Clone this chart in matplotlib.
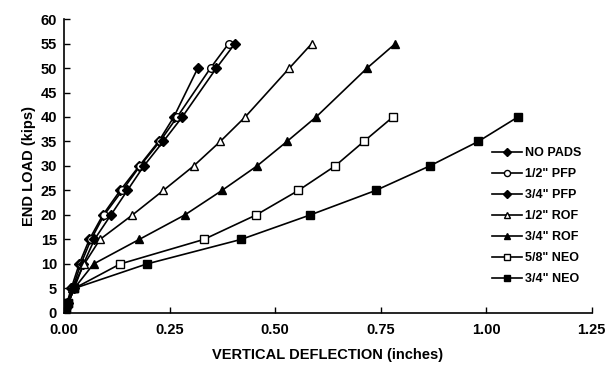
import matplotlib.pyplot as plt

plt.rcParams['font.family'] = ['Liberation Sans', 'DejaVu Sans']
plt.rcParams['font.weight'] = 'bold'

# load (kips) and vertical deflection (inches)
load_pfp = [0, 1, 2, 5, 10, 15, 20, 25, 30, 35, 40, 50, 55]
load_nopads = [0, 1, 2, 5, 10, 15, 20, 25, 30, 35, 40, 50]
load_rof = [0, 1, 2, 5, 10, 15, 20, 25, 30, 35, 40, 50, 55]
load_neo = [0, 1, 2, 5, 10, 15, 20, 25, 30, 35, 40]

defl_nopads = [0, 0.003, 0.007, 0.017, 0.036, 0.060, 0.092, 0.133, 0.178, 0.224, 0.260, 0.317]
defl_pfp_12 = [0, 0.004, 0.008, 0.020, 0.040, 0.064, 0.095, 0.138, 0.180, 0.227, 0.268, 0.347, 0.390]
defl_pfp_34 = [0, 0.005, 0.010, 0.024, 0.046, 0.072, 0.111, 0.150, 0.189, 0.235, 0.280, 0.361, 0.405]
defl_rof_12 = [0, 0.005, 0.010, 0.020, 0.048, 0.085, 0.162, 0.235, 0.307, 0.370, 0.429, 0.534, 0.587]
defl_rof_34 = [0, 0.005, 0.010, 0.024, 0.070, 0.178, 0.286, 0.374, 0.457, 0.528, 0.597, 0.718, 0.785]
defl_neo_58 = [0, 0.005, 0.010, 0.024, 0.133, 0.331, 0.455, 0.555, 0.642, 0.710, 0.779]
defl_neo_34 = [0, 0.005, 0.010, 0.024, 0.196, 0.419, 0.583, 0.738, 0.866, 0.981, 1.075]

fig = plt.figure(figsize=(6.12, 3.73), dpi=100)
ax = fig.add_axes([0.1046, 0.161, 0.8624, 0.788])

style = dict(color='black', linewidth=1.2, markersize=5.5)
ax.plot(defl_nopads, load_nopads, marker='D', markersize=5, color='black', linewidth=1.2, label='NO PADS')
ax.plot(defl_pfp_12, load_pfp, marker='o', markerfacecolor='white', label='1/2" PFP', **style)
ax.plot(defl_pfp_34, load_pfp, marker='D', markersize=5, color='black', linewidth=1.2, label='3/4" PFP')
ax.plot(defl_rof_12, load_rof, marker='^', markerfacecolor='white', label='1/2" ROF', **style)
ax.plot(defl_rof_34, load_rof, marker='^', label='3/4" ROF', **style)
ax.plot(defl_neo_58, load_neo, marker='s', markerfacecolor='white', label='5/8" NEO', **style)
ax.plot(defl_neo_34, load_neo, marker='s', label='3/4" NEO', **style)

ax.set_xlim(0, 1.25)
ax.set_ylim(0, 60)
ax.set_xticks([0, 0.25, 0.5, 0.75, 1.0, 1.25])
ax.set_xticklabels(['0.00', '0.25', '0.50', '0.75', '1.00', '1.25'])
ax.set_yticks(range(0, 61, 5))
ax.tick_params(direction='in', length=4, width=1, labelsize=10.5, pad=5)
ax.tick_params(axis='x', pad=7)
for lab in ax.get_xticklabels() + ax.get_yticklabels():
    lab.set_fontweight('bold')
ax.spines['top'].set_visible(False)
ax.spines['right'].set_visible(False)
for s in ['left', 'bottom']:
    ax.spines[s].set_linewidth(1.2)

ax.set_xlabel('VERTICAL DEFLECTION (inches)', fontsize=10.5, fontweight='bold', labelpad=8)
ax.set_ylabel('END LOAD (kips)', fontsize=10.5, fontweight='bold', labelpad=3)

ax.legend(loc='upper left', bbox_to_anchor=(0.80, 0.585), frameon=False,
          fontsize=9, handlelength=2.4, handletextpad=0.2, labelspacing=0.72,
          borderpad=0, markerscale=0.8)

fig.savefig('out.png', dpi=100)
